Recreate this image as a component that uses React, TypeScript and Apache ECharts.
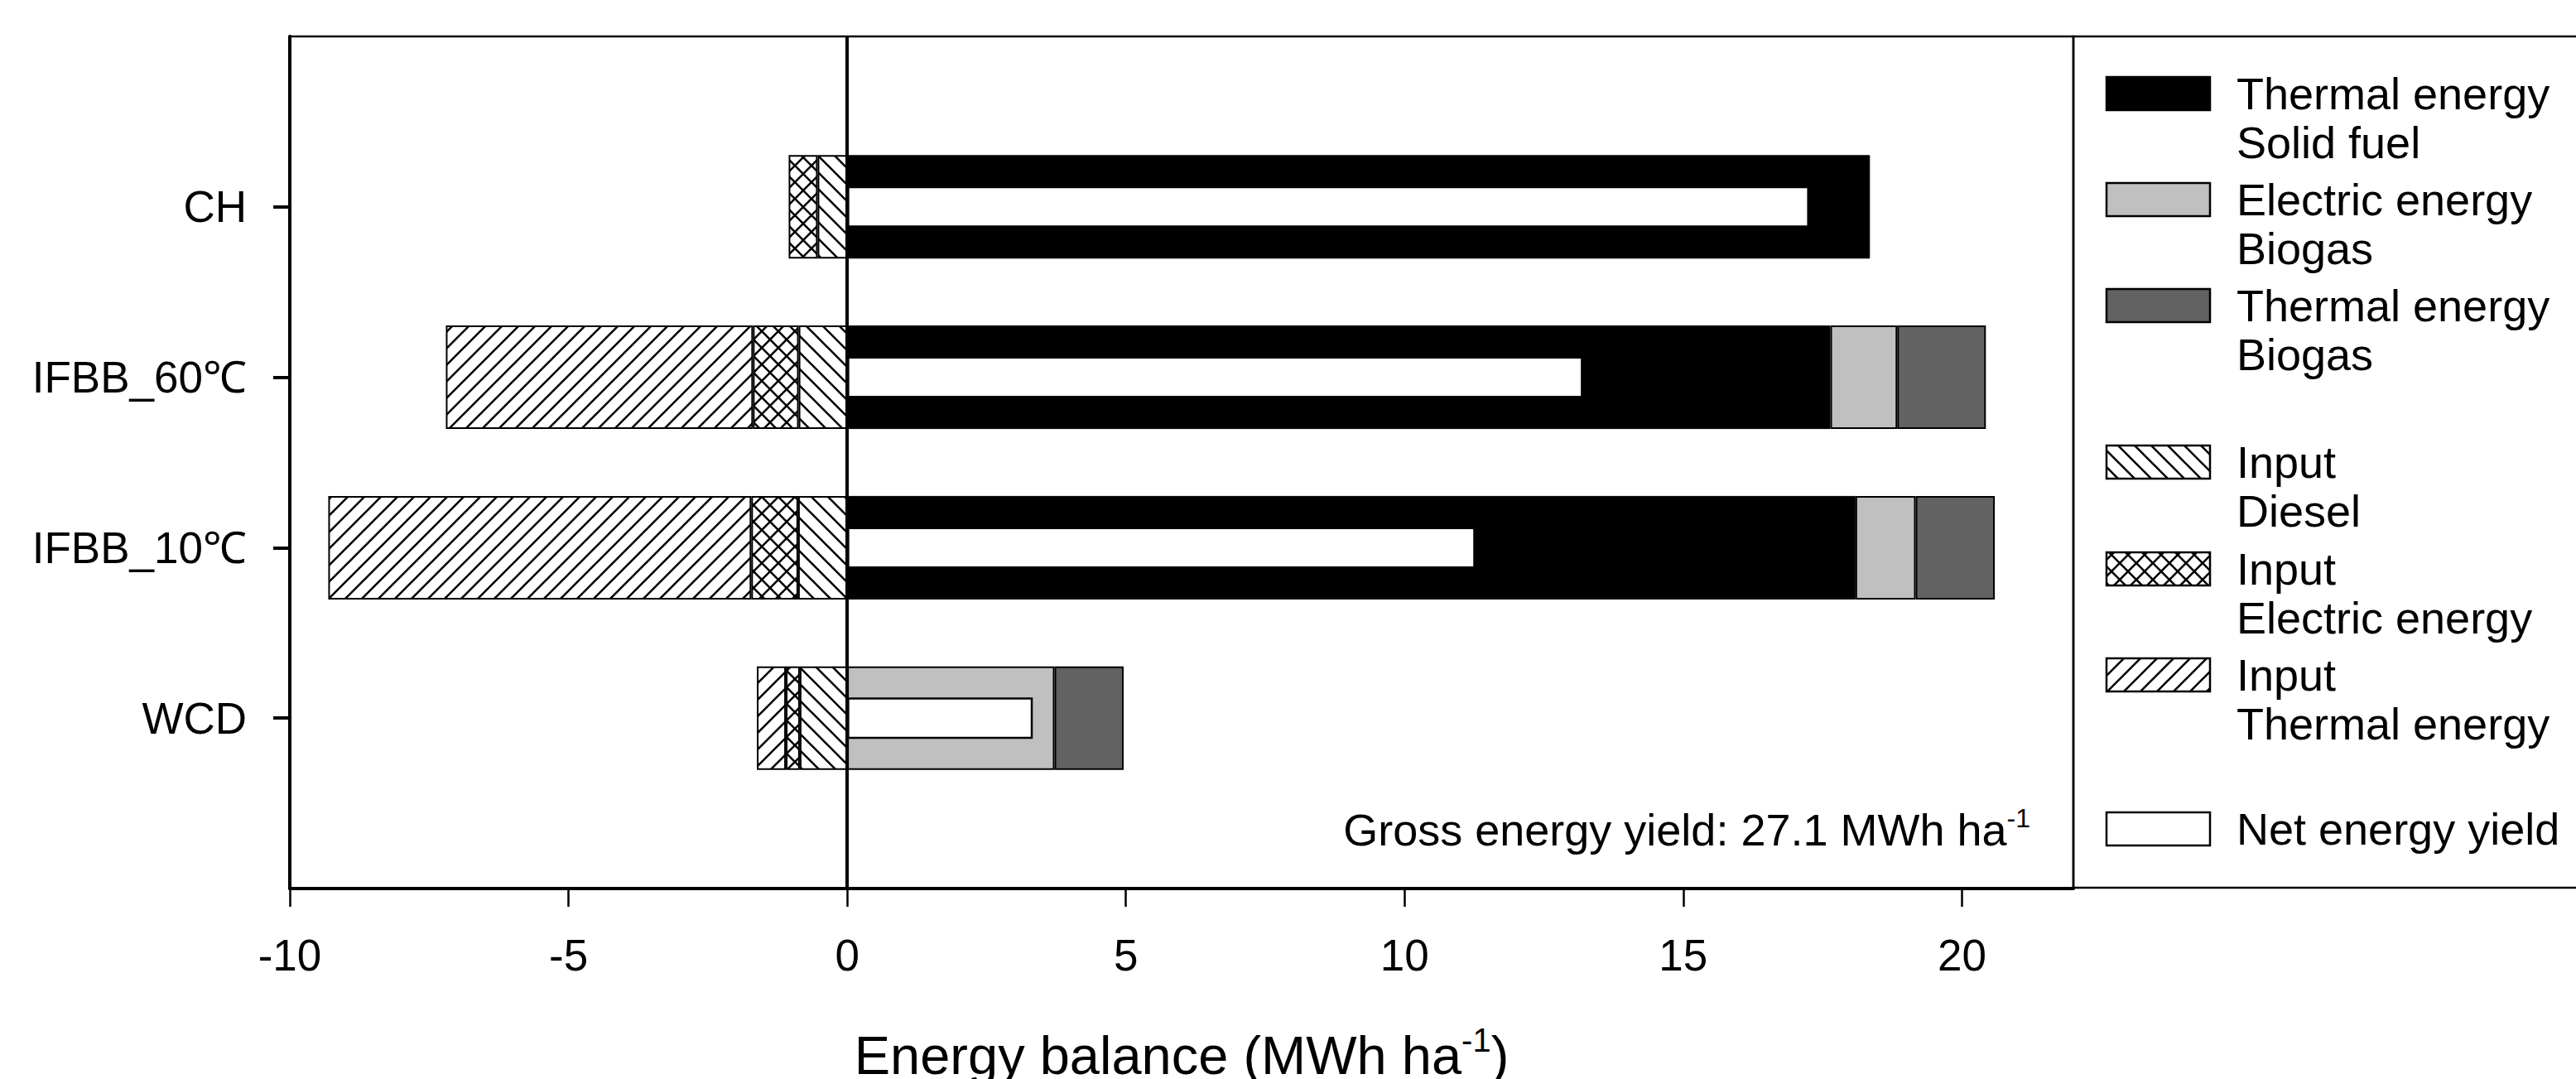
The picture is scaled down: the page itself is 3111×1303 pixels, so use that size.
import React, { useEffect, useRef } from 'react';
import * as echarts from 'echarts';

// ---------- data ----------
const categories = ['CH', 'IFBB_60℃', 'IFBB_10℃', 'WCD'];
const solidFuelThermal = [18.35, 17.64, 18.09, null];
const biogasElectric = [null, 1.2, 1.08, 3.72];
const biogasThermal = [null, 1.59, 1.42, 1.24];
const inputDiesel = [-0.53, -0.87, -0.88, -0.85];
const inputElectric = [-0.52, -0.82, -0.84, -0.25];
const inputThermal = [null, -5.51, -7.59, -0.52];
const netEnergyYield = [17.26, 13.2, 11.27, 3.33];
const xTickValues = [-10, -5, 0, 5, 10, 15, 20];
const legendLabels = [
  'Thermal energy\nSolid fuel',
  'Electric energy\nBiogas',
  'Thermal energy\nBiogas',
  'Input\nDiesel',
  'Input\nElectric energy',
  'Input\nThermal energy',
  'Net energy yield',
];
const grossEnergyYield = '27.1';

// ---------- style / layout ----------
const FONT = '"Liberation Sans", Arial, Helvetica, sans-serif';
const BLACK = '#000000';
const LIGHT = '#c0c0c0';
const DARK = '#626262';
const legendTops = [93, 221, 349, 538, 667, 795, 981];

function hatch(kind: 'fwd' | 'back' | 'cross') {
  const s = 20;
  const c = document.createElement('canvas');
  c.width = s;
  c.height = s;
  const g = c.getContext('2d') as CanvasRenderingContext2D;
  g.fillStyle = '#ffffff';
  g.fillRect(0, 0, s, s);
  g.strokeStyle = '#000000';
  g.lineWidth = 2.6;
  g.beginPath();
  for (let k = -1; k <= 1; k++) {
    if (kind !== 'back') {
      g.moveTo(k * s - 5, s + 5);
      g.lineTo(k * s + s + 5, -5);
    }
    if (kind !== 'fwd') {
      g.moveTo(k * s - 5, -5);
      g.lineTo(k * s + s + 5, s + 5);
    }
  }
  g.stroke();
  return { image: c, repeat: 'repeat', imageWidth: s, imageHeight: s } as any;
}

const pad = (arr: (number | null)[]) => [null, ...arr, null];

function buildOption() {
  const fwd = hatch('fwd');
  const back = hatch('back');
  const cross = hatch('cross');
  const yData = ['', ...categories, ''];

  const stackSeries = (name: string, data: (number | null)[], color: any, bw = 2) => ({
    name,
    type: 'bar',
    stack: 'total',
    barWidth: 125,
    data: pad(data),
    itemStyle: { color, borderColor: '#000', borderWidth: bw },
    emphasis: { disabled: true },
  });

  const legendFills = [BLACK, LIGHT, DARK, back, cross, fwd, '#ffffff'];
  const legendGraphics: any[] = [];
  legendLabels.forEach((label, i) => {
    const top = legendTops[i];
    legendGraphics.push({
      type: 'rect',
      shape: { x: 2544, y: top, width: 125, height: 40 },
      style: { fill: legendFills[i], stroke: '#000', lineWidth: 2.5 },
    });
    legendGraphics.push({
      type: 'text',
      x: 2701,
      y: top + 20 - 29.5,
      style: {
        text: label,
        fontSize: 54,
        lineHeight: 59,
        fontFamily: FONT,
        fill: '#000',
        align: 'left',
        verticalAlign: 'top',
      },
    });
  });

  return {
    animation: false,
    backgroundColor: '#ffffff',
    textStyle: { fontFamily: FONT },
    grid: {
      left: 350,
      right: 607,
      top: 44,
      bottom: 230,
      show: true,
      borderColor: '#000',
      borderWidth: 2.5,
      backgroundColor: 'transparent',
      containLabel: false,
    },
    xAxis: {
      type: 'value',
      min: -10,
      max: 22,
      interval: 5,
      splitLine: { show: false },
      axisLine: { show: true, onZero: false, lineStyle: { color: '#000', width: 4 } },
      axisTick: {
        show: true,
        length: 22,
        customValues: xTickValues,
        lineStyle: { color: '#000', width: 2.5 },
      },
      axisLabel: {
        customValues: xTickValues,
        fontSize: 53,
        color: '#000',
        margin: 54,
        fontFamily: FONT,
      },
    },
    yAxis: [
      {
        type: 'category',
        data: yData,
        inverse: true,
        boundaryGap: false,
        axisLine: { show: true, onZero: false, lineStyle: { color: '#000', width: 4 } },
        axisTick: {
          show: true,
          length: 20,
          interval: (index: number) => index > 0 && index < yData.length - 1,
          lineStyle: { color: '#000', width: 4 },
        },
        axisLabel: { interval: 0, fontSize: 53, color: '#000', margin: 52, fontFamily: FONT },
        splitLine: { show: false },
      },
      {
        type: 'category',
        data: yData,
        inverse: true,
        boundaryGap: false,
        position: 'left',
        show: false,
      },
    ],
    series: [
      {
        ...stackSeries('Input Diesel', inputDiesel, back),
        markLine: {
          silent: true,
          symbol: ['none', 'none'],
          label: { show: false },
          lineStyle: { color: '#000', width: 4, type: 'solid', opacity: 1 },
          data: [{ xAxis: 0 }],
        },
      },
      stackSeries('Input Electric energy', inputElectric, cross),
      stackSeries('Input Thermal energy', inputThermal, fwd),
      stackSeries('Thermal energy Solid fuel', solidFuelThermal, BLACK, 1),
      stackSeries('Electric energy Biogas', biogasElectric, LIGHT),
      stackSeries('Thermal energy Biogas', biogasThermal, DARK),
      {
        name: 'Net energy yield',
        type: 'bar',
        yAxisIndex: 1,
        barWidth: 50,
        data: pad(netEnergyYield),
        itemStyle: { color: '#ffffff', borderColor: '#000', borderWidth: 2.5 },
        emphasis: { disabled: true },
      },
    ],
    graphic: [
      {
        type: 'rect',
        shape: { x: 2504, y: 44, width: 700, height: 1028 },
        style: { fill: 'none', stroke: '#000', lineWidth: 2.5 },
      },
      ...legendGraphics,
      {
        type: 'text',
        x: 2452,
        y: 1002,
        style: {
          text: `{m|Gross energy yield: ${grossEnergyYield} MWh ha}{s|-1}`,
          align: 'right',
          verticalAlign: 'middle',
          fill: '#000',
          rich: {
            m: { fontSize: 54, lineHeight: 60, fontFamily: FONT, fill: '#000' },
            s: { fontSize: 32, lineHeight: 32, fontFamily: FONT, fill: '#000', verticalAlign: 'top' },
          },
        },
      },
      {
        type: 'text',
        x: 1427,
        y: 1274,
        style: {
          text: '{m|Energy balance (MWh ha}{s|-1}{m|)}',
          align: 'center',
          verticalAlign: 'middle',
          fill: '#000',
          rich: {
            m: { fontSize: 65, lineHeight: 76, fontFamily: FONT, fill: '#000' },
            s: { fontSize: 40, lineHeight: 40, fontFamily: FONT, fill: '#000', verticalAlign: 'top' },
          },
        },
      },
    ],
  };
}

export default function App() {
  const ref = useRef<HTMLDivElement>(null);
  useEffect(() => {
    if (!ref.current) return;
    const chart = echarts.init(ref.current, null, { renderer: 'svg' });
    chart.setOption(buildOption() as any);
    return () => {
      chart.dispose();
    };
  }, []);
  return (
    <div
      ref={ref}
      style={{ position: 'fixed', left: 0, top: 0, width: 3111, height: 1303, background: '#fff' }}
    />
  );
}
